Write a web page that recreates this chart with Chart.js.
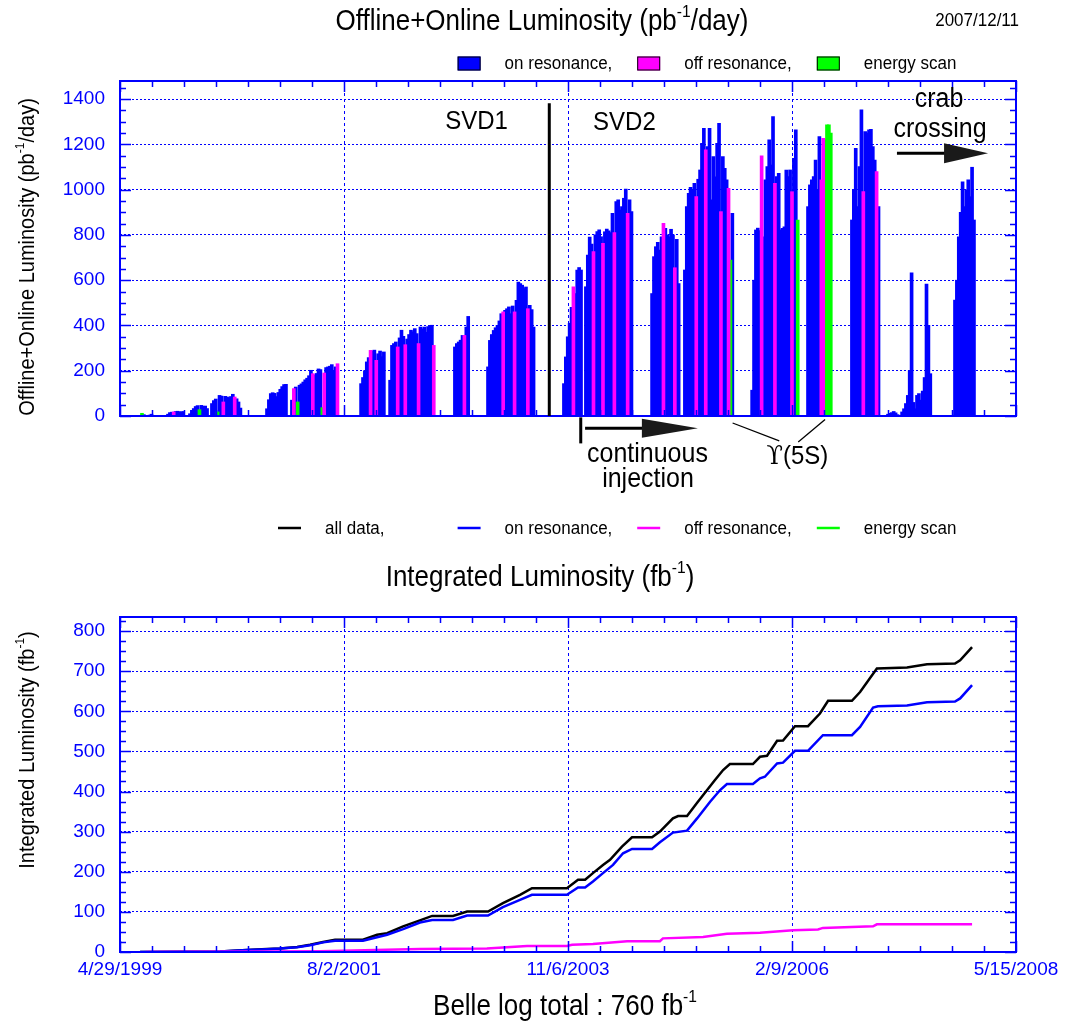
<!DOCTYPE html>
<html>
<head>
<meta charset="utf-8">
<title>Belle luminosity</title>
<script src="https://cdn.jsdelivr.net/npm/chart.js@4.4.1/dist/chart.umd.min.js"></script>
<style>
  html, body { margin: 0; padding: 0; background: #fff; }
  #wrap { position: relative; width: 1065px; height: 1029px; background: #fff; overflow: hidden; }
  canvas { position: absolute; left: 0; }
  #daily { top: 0; }
  #integ { top: 505px; }
</style>
</head>
<body>
<div id="wrap">
  <canvas id="daily" width="1065" height="505"></canvas>
  <canvas id="integ" width="1065" height="524"></canvas>
</div>
<script>
// ---------------------------------------------------------------------------
// Time axis: days counted from 4/29/1999, labelled every 826 days.
// ---------------------------------------------------------------------------
const AXIS_START = Date.UTC(1999, 3, 29);
const AXIS_DAYS = 3304;            // 4/29/1999 .. 5/15/2008
const MAJOR_DAYS = 826;
const MINOR_PER_MAJOR = 7;
const BIN_DAYS = 7;                // one bar per week inside each running period

// Daily luminosity (pb^-1/day), one sample per week of each running period.
// Kind codes: o = on resonance, m = off resonance, s = energy scan.
const runStart = [74, 177, 258, 339, 542, 634, 889, 996, 1235, 1357, 1637,
                  1718, 1962, 2083, 2331, 2537, 2699, 2832, 2884, 2932, 3079];
const runLumi = [
  [3, 12, 6, 3, 2, 4, 8],
  [8, 15, 17, 18, 20, 21, 19, 18, 20],
  [10, 25, 33, 42, 46, 28, 47, 43, 44, 33],
  [55, 68, 75, 18, 91, 88, 62, 87, 84, 80, 86, 96, 84, 76, 62, 35],
  [32, 72, 99, 103, 100, 86, 104, 118, 130, 139, 140],
  [70, 121, 128, 62, 136, 142, 150, 160, 167, 178, 202, 187, 182, 188, 208, 205, 37, 190, 214, 217, 220, 227, 202, 217, 231],
  [143, 170, 200, 239, 258, 290, 288, 291, 246, 275, 287, 262, 283],
  [158, 312, 320, 327, 305, 345, 379, 352, 315, 340, 360, 379, 372, 386, 364, 320, 393, 385, 393, 370, 395, 399, 401, 312],
  [305, 320, 327, 335, 356, 356, 393, 440],
  [217, 334, 360, 378, 390, 400, 420, 452, 460, 467, 474, 482, 452, 486, 460, 511, 592, 585, 578, 563, 570, 474, 489, 470, 393],
  [143, 261, 350, 410, 480, 571, 541, 645, 656, 645],
  [571, 711, 790, 760, 726, 800, 815, 822, 792, 763, 814, 826, 818, 810, 895, 810, 947, 955, 910, 925, 962, 1003, 895, 955, 903],
  [541, 704, 748, 767, 733, 792, 851, 829, 800, 792, 825, 800, 655, 780, 585],
  [645, 925, 984, 1010, 999, 1028, 969, 1046, 1087, 1205, 1271, 1176, 1190, 1271, 955, 1146, 1057, 1205, 1293, 903, 1146, 1094, 1043, 1006, 689, 895],
  [114, 600, 822, 830, 819, 1149, 792, 1043, 1102, 1220, 1109, 1323, 1028, 1058, 1072, 822, 829, 836, 1087, 1058, 1087, 991, 1138, 1264, 866],
  [925, 1021, 1043, 1058, 1131, 999, 1235, 1043, 1227, 1220, 1286, 1286, 1250],
  [866, 1000, 1183, 925, 1102, 1353, 991, 1257, 1250, 1264, 1267, 1190, 1131, 1080, 925],
  [8, 12, 15, 20, 14, 6],
  [18, 32, 55, 91, 200, 633, 60],
  [32, 91, 99, 70, 110, 170, 583, 400, 187],
  [512, 600, 792, 900, 1035, 925, 999, 1043, 969, 1099, 866]
];
const runKind = [
  'osooooo',
  'ooomooooo',
  'ooooosoooo',
  'ooosoomooooomooo',
  'ooooooooooo',
  'omosooooooomoooosmoooooom',
  'ooooomoomoooo',
  'oooomooomoooooomooooooom',
  'ooooomoo',
  'oooooooomooooomoooooomooo',
  'ooooomoooo',
  'oooomoooomooooomoooooomoo',
  'oooooomooooomoo',
  'oooooomoooomooooooomooomso',
  'ooooomoooooomoooooooomoos',
  'ooooooommssss',
  'oooooomoooooomo',
  'oooooo',
  'ooooooo',
  'ooooooooo',
  'ooooooooooo'
];

// Integrated luminosity (fb^-1) against day number.
const allDay  = [74, 369, 468, 542, 590, 653, 701, 749, 793, 896, 948, 985, 1044, 1106, 1151, 1228, 1280, 1357, 1412, 1475,
                 1519, 1648, 1689, 1715, 1744, 1781, 1807, 1851, 1888, 1962, 1991, 2039, 2058, 2091, 2131, 2165, 2194, 2224, 2249, 2334,
                 2360, 2386, 2423, 2445, 2489, 2537, 2581, 2611, 2699, 2729, 2791, 2902, 2976, 3079, 3098, 3142];
const allLumi = [0, 1, 5, 7.5, 9, 12.5, 18, 25, 30.6, 30.6, 43, 47, 64, 79, 90, 90, 101, 101, 122, 142.5,
                 159, 159, 180, 180, 196.5, 217, 229.6, 262.7, 286, 286, 300, 333, 339, 339, 374.6, 403.7, 428.6, 453.5, 468.4, 468.4,
                 486.6, 489, 526.4, 527, 563, 563, 594.5, 626, 626, 648, 706.5, 709, 717, 719, 727, 760];
const onDay   = [74, 369, 468, 542, 590, 653, 701, 749, 793, 896, 985, 1044, 1106, 1151, 1228, 1280, 1357, 1412, 1475, 1519,
                 1648, 1689, 1715, 1744, 1781, 1818, 1855, 1888, 1962, 1991, 2039, 2091, 2128, 2176, 2213, 2238, 2334, 2360, 2378, 2423,
                 2445, 2489, 2537, 2592, 2699, 2729, 2777, 2795, 2902, 2976, 3079, 3098, 3142];
const onLumi  = [0, 1, 5, 7, 8.5, 12, 17, 24, 28, 28, 43, 57, 73.6, 80, 80, 91, 91, 112, 130, 142.5,
                 142.5, 160.7, 160.7, 175.6, 196.5, 217, 246, 257, 257, 273.6, 297.6, 302.5, 333, 374.6, 403.7, 418.7, 418.7, 432.8, 436.8, 470,
                 472, 501.5, 501.5, 540.5, 540.5, 561, 609.5, 612.7, 614.4, 622.6, 624.4, 632, 665];
const offDay  = [96, 738, 1106, 1353, 1501, 1648, 1667, 1744, 1870, 1991, 2002, 2150, 2238, 2360, 2482, 2574, 2592, 2777, 2791, 3142];
const offLumi = [0, 2, 7.5, 9, 15, 15, 18, 20, 27, 27, 34, 37.5, 45.6, 48, 54, 56, 60, 64, 69, 69];

const dailyTicks = [0, 200, 400, 600, 800, 1000, 1200, 1400];
const integTicks = [0, 100, 200, 300, 400, 500, 600, 700, 800];

const legendItems = [
  { label: 'all data,',      color: '#000000' },
  { label: 'on resonance,',  color: '#0000ff' },
  { label: 'off resonance,', color: '#ff00ff' },
  { label: 'energy scan',    color: '#00ff00' }
];

// ---------------------------------------------------------------------------
const FONT = '"Liberation Sans", Arial, Helvetica, sans-serif';
const SYMBOL_FONT = '"DejaVu Serif", "DejaVu Sans", serif';
const STRETCH = 1.1;
const AXIS_BLUE = '#0000ff';
const ON_COLOR = '#0000ff', OFF_COLOR = '#ff00ff', SCAN_COLOR = '#00ff00';

Chart.defaults.font.family = FONT;

function dateLabel(day) {
  const d = new Date(AXIS_START + day * 86400000);
  return (d.getUTCMonth() + 1) + '/' + d.getUTCDate() + '/' + d.getUTCFullYear();
}
function majorDays() {
  const out = [];
  for (let d = 0; d <= AXIS_DAYS; d += MAJOR_DAYS) out.push(d);
  return out;
}

function buildBars(kind) {
  const pts = [];
  runStart.forEach((start, r) => {
    runLumi[r].forEach((v, i) => {
      if ((runKind[r][i] || 'o') === kind) pts.push({ x: start + i * BIN_DAYS, y: v });
    });
  });
  return pts;
}
function pairs(xs, ys) { return xs.map((x, i) => ({ x: x, y: ys[i] })); }

// Text with optional superscript parts, slightly tall glyphs.
function richText(ctx, parts, x, y, size, align, rotate) {
  ctx.save();
  ctx.translate(x, y);
  if (rotate) ctx.rotate(rotate);
  ctx.scale(1, STRETCH);
  const supSize = size * 0.6;
  const fontOf = p => (p.sup ? supSize : size) + 'px ' + (p.font || FONT);
  const widths = parts.map(p => { ctx.font = fontOf(p); return ctx.measureText(p.t).width; });
  const total = widths.reduce((a, b) => a + b, 0);
  let cx = align === 'center' ? -total / 2 : (align === 'right' ? -total : 0);
  ctx.fillStyle = '#000';
  ctx.textAlign = 'left';
  ctx.textBaseline = 'alphabetic';
  parts.forEach((p, i) => {
    ctx.font = fontOf(p);
    ctx.fillText(p.t, cx, p.sup ? -size * 0.45 : 0);
    cx += widths[i];
  });
  ctx.restore();
}
function plainText(ctx, str, x, y, size, align) {
  richText(ctx, [{ t: str }], x, y, size, align || 'left', 0);
}

// Blue frame with inward tick marks on all four sides.
function drawFrame(chart, yMinor, yMajor) {
  const ctx = chart.ctx, a = chart.chartArea;
  const xs = chart.scales.x, ys = chart.scales.y;
  ctx.save();
  ctx.strokeStyle = AXIS_BLUE;
  ctx.lineWidth = 1.5;
  ctx.beginPath();
  const minorStep = MAJOR_DAYS / MINOR_PER_MAJOR;
  for (let k = 0; k * minorStep <= AXIS_DAYS; k++) {
    const px = Math.round(xs.getPixelForValue(k * minorStep)) + 0.5;
    const len = (k % MINOR_PER_MAJOR === 0) ? 11 : 6;
    ctx.moveTo(px, a.top); ctx.lineTo(px, a.top + len);
    ctx.moveTo(px, a.bottom); ctx.lineTo(px, a.bottom - len);
  }
  for (let v = 0; v <= ys.max; v += yMinor) {
    const py = Math.round(ys.getPixelForValue(v)) + 0.5;
    const len = (v % yMajor === 0) ? 11 : 6;
    ctx.moveTo(a.left, py); ctx.lineTo(a.left + len, py);
    ctx.moveTo(a.right, py); ctx.lineTo(a.right - len, py);
  }
  ctx.stroke();
  ctx.lineWidth = 2;
  ctx.strokeRect(a.left, a.top, a.right - a.left, a.bottom - a.top);
  ctx.restore();
}

function arrow(ctx, x0, x1, y, headLen, headHalf) {
  ctx.save();
  ctx.strokeStyle = '#000';
  ctx.fillStyle = '#1a1a1a';
  ctx.lineWidth = 3;
  ctx.beginPath();
  ctx.moveTo(x0, y); ctx.lineTo(x1 - headLen + 2, y);
  ctx.stroke();
  ctx.beginPath();
  ctx.moveTo(x1, y);
  ctx.lineTo(x1 - headLen, y - headHalf);
  ctx.lineTo(x1 - headLen, y + headHalf);
  ctx.closePath();
  ctx.fill();
  ctx.restore();
}

function drawLegend(ctx, items, y, asBoxes) {
  const x0 = 278, step = 179.6;
  items.forEach((it, i) => {
    if (!it) return;
    const x = x0 + step * i;
    ctx.save();
    if (asBoxes) {
      ctx.fillStyle = it.color;
      ctx.fillRect(x, y - 7, 23, 14);
      ctx.strokeStyle = '#000';
      ctx.lineWidth = 1;
      ctx.strokeRect(x + 0.5, y - 6.5, 22, 13);
    } else {
      ctx.strokeStyle = it.color;
      ctx.lineWidth = 2.5;
      ctx.beginPath();
      ctx.moveTo(x, y); ctx.lineTo(x + 23, y);
      ctx.stroke();
    }
    ctx.restore();
    plainText(ctx, it.label, x + 47, y + 5.5, 17, 'left');
  });
}

// Annotations of the daily plot, placed in data units (day, pb^-1/day).
const svdSwitch = { day: 1583, top: 1382 };
const dailyNotes = [
  { parts: [{ t: 'SVD1' }],       day: 1315, lumi: 1266, size: 24 },
  { parts: [{ t: 'SVD2' }],       day: 1860, lumi: 1262, size: 24 },
  { parts: [{ t: 'crab' }],       day: 3020, lumi: 1365, size: 25 },
  { parts: [{ t: 'crossing' }],   day: 3024, lumi: 1233, size: 25 },
  { parts: [{ t: 'continuous' }], day: 1945, lumi: -203, size: 25 },
  { parts: [{ t: 'injection' }],  day: 1947, lumi: -315, size: 25 },
  { parts: [{ t: '\u03D2', font: SYMBOL_FONT }, { t: '(5S)' }], day: 2498, lumi: -210, size: 24 }
];
const crabArrow = { from: 2865, to: 3201, lumi: 1161 };
const injectionArrow = { from: 1715, to: 2131, lumi: -54, mark: 1699, markTop: -6, markBottom: -121 };
const upsilonLeaders = [[2259, -31, 2431, -110], [2600, -16, 2501, -115]];

const dailyDecor = {
  id: 'dailyDecor',
  afterDraw(chart) {
    const ctx = chart.ctx, xs = chart.scales.x, ys = chart.scales.y;
    drawFrame(chart, 50, 200);

    // SVD1 / SVD2 boundary
    ctx.save();
    ctx.strokeStyle = '#000';
    ctx.lineWidth = 3;
    ctx.beginPath();
    const sx = xs.getPixelForValue(svdSwitch.day);
    ctx.moveTo(sx, ys.getPixelForValue(0));
    ctx.lineTo(sx, ys.getPixelForValue(svdSwitch.top));
    ctx.stroke();

    // start of continuous injection
    const mx = xs.getPixelForValue(injectionArrow.mark);
    ctx.beginPath();
    ctx.moveTo(mx, ys.getPixelForValue(injectionArrow.markTop));
    ctx.lineTo(mx, ys.getPixelForValue(injectionArrow.markBottom));
    ctx.stroke();

    // Upsilon(5S) leader lines
    ctx.lineWidth = 1.3;
    upsilonLeaders.forEach(l => {
      ctx.beginPath();
      ctx.moveTo(xs.getPixelForValue(l[0]), ys.getPixelForValue(l[1]));
      ctx.lineTo(xs.getPixelForValue(l[2]), ys.getPixelForValue(l[3]));
      ctx.stroke();
    });
    ctx.restore();

    arrow(ctx, xs.getPixelForValue(crabArrow.from), xs.getPixelForValue(crabArrow.to),
          ys.getPixelForValue(crabArrow.lumi), 44, 10);
    arrow(ctx, xs.getPixelForValue(injectionArrow.from), xs.getPixelForValue(injectionArrow.to),
          ys.getPixelForValue(injectionArrow.lumi), 56, 9.5);

    dailyNotes.forEach(n => richText(ctx, n.parts, xs.getPixelForValue(n.day), ys.getPixelForValue(n.lumi), n.size, 'center', 0));

    // titles and legend
    richText(ctx, [{ t: 'Offline+Online Luminosity (pb' }, { t: '-1', sup: true }, { t: '/day)' }], 542, 30, 26, 'center');
    plainText(ctx, '2007/12/11', 1019, 26, 17, 'right');
    richText(ctx, [{ t: 'Offline+Online Luminosity (pb' }, { t: '-1', sup: true }, { t: '/day)' }], 34, 257, 20, 'center', -Math.PI / 2);
    drawLegend(ctx, [null, legendItems[1], legendItems[2], legendItems[3]], 63.5, true);
  }
};

const integDecor = {
  id: 'integDecor',
  afterDraw(chart) {
    const ctx = chart.ctx;
    drawFrame(chart, 25, 100);
    drawLegend(ctx, legendItems, 23, false);
    richText(ctx, [{ t: 'Integrated Luminosity (fb' }, { t: '-1', sup: true }, { t: ')' }], 540, 81, 26, 'center');
    richText(ctx, [{ t: 'Integrated Luminosity (fb' }, { t: '-1', sup: true }, { t: ')' }], 34, 245, 20, 'center', -Math.PI / 2);
    richText(ctx, [{ t: 'Belle log total : ' + allLumi[allLumi.length - 1] + ' fb' }, { t: '-1', sup: true }], 565, 510, 26, 'center');
  }
};

const barStyle = { barThickness: 3, grouped: false, borderWidth: 0 };
const lineStyle = { borderWidth: 2.5, pointRadius: 0, tension: 0, fill: false };

function xAxis(extra) {
  return Object.assign({
    type: 'linear', min: 0, max: AXIS_DAYS, offset: false,
    afterBuildTicks: s => { s.ticks = majorDays().map(v => ({ value: v })); },
    grid: { color: AXIS_BLUE, lineWidth: 1, drawTicks: false, offset: false },
    border: { display: false, dash: [3, 3] }
  }, extra);
}
function yAxis(max, ticks) {
  return {
    min: 0, max: max,
    afterBuildTicks: s => { s.ticks = ticks.map(v => ({ value: v })); },
    ticks: { color: AXIS_BLUE, font: { size: 19 }, padding: 15, callback: v => String(v) },
    grid: { color: AXIS_BLUE, lineWidth: 1, drawTicks: false },
    border: { display: false, dash: [2, 2] },
    afterFit: s => { s.width = 120; }
  };
}

new Chart(document.getElementById('daily'), {
  type: 'bar',
  data: {
    datasets: [
      Object.assign({ label: 'off resonance', data: buildBars('m'), backgroundColor: OFF_COLOR }, barStyle),
      Object.assign({ label: 'energy scan',   data: buildBars('s'), backgroundColor: SCAN_COLOR }, barStyle),
      Object.assign({ label: 'on resonance',  data: buildBars('o'), backgroundColor: ON_COLOR }, barStyle)
    ]
  },
  options: {
    responsive: false, animation: false, devicePixelRatio: 1,
    layout: { padding: { top: 81, right: 49, left: 0, bottom: 0 } },
    plugins: { legend: { display: false }, tooltip: { enabled: false } },
    scales: {
      x: xAxis({ ticks: { display: false }, afterFit: s => { s.height = 89; } }),
      y: yAxis(1480, dailyTicks)
    }
  },
  plugins: [dailyDecor]
});

new Chart(document.getElementById('integ'), {
  type: 'line',
  data: {
    datasets: [
      Object.assign({ label: 'off resonance', data: pairs(offDay, offLumi), borderColor: OFF_COLOR }, lineStyle),
      Object.assign({ label: 'on resonance',  data: pairs(onDay, onLumi),   borderColor: ON_COLOR }, lineStyle),
      Object.assign({ label: 'all data',      data: pairs(allDay, allLumi), borderColor: '#000000' }, lineStyle)
    ]
  },
  options: {
    responsive: false, animation: false, devicePixelRatio: 1,
    layout: { padding: { top: 112, right: 49, left: 0, bottom: 0 } },
    plugins: { legend: { display: false }, tooltip: { enabled: false } },
    scales: {
      x: xAxis({
        ticks: { color: AXIS_BLUE, font: { size: 19 }, padding: 6, maxRotation: 0, autoSkip: false,
                 callback: v => dateLabel(v) },
        afterFit: s => { s.height = 77; }
      }),
      y: yAxis(835, integTicks)
    }
  },
  plugins: [integDecor]
});
</script>
</body>
</html>
